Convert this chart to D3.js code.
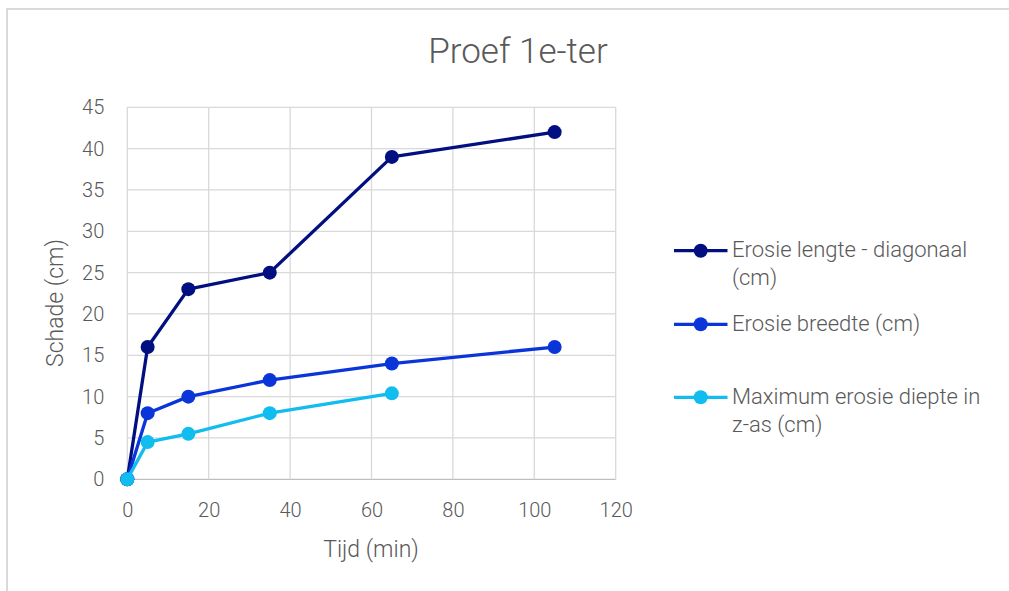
<!DOCTYPE html>
<html><head><meta charset="utf-8">
<script src="https://cdn.jsdelivr.net/npm/d3@7"></script>
<style>html,body{margin:0;padding:0;background:#fff;overflow:hidden}</style>
</head><body><svg id="c" width="1009" height="591"></svg>
<script>
const title = "Proef 1e-ter";
const xLabel = "Tijd (min)";
const yLabel = "Schade (cm)";
const times = [0, 5, 15, 35, 65, 105];
const lengte = [0, 16, 23, 25, 39, 42];
const breedte = [0, 8, 10, 12, 14, 16];
const diepte = [0, 4.5, 5.5, 8, 10.4];
const seriesNames = [["Erosie lengte - diagonaal", "(cm)"], ["Erosie breedte (cm)"], ["Maximum erosie diepte in", "z-as (cm)"]];
const seriesColors = ["#020f80", "#0a36d9", "#10bdee"];
const xTicks = [0, 20, 40, 60, 80, 100, 120];
const yTicks = [0, 5, 10, 15, 20, 25, 30, 35, 40, 45];

const font = "Roboto,'Open Sans',sans-serif";
const txt = "#595959";
const svg = d3.select("#c");
svg.append("rect").attr("x", 7).attr("y", 9).attr("width", 1100).attr("height", 700)
  .attr("fill", "#fff").attr("stroke", "#d9d9d9").attr("stroke-width", 2);

const x = d3.scaleLinear().domain([0, 120]).range([127.3, 615.7]);
const y = d3.scaleLinear().domain([0, 45]).range([479.3, 107.3]);

const g = svg.append("g");
g.selectAll(".hg").data(yTicks).join("line")
  .attr("x1", x(0)).attr("x2", x(120)).attr("y1", d => y(d)).attr("y2", d => y(d))
  .attr("stroke", d => d === 0 ? "#bfbfbf" : "#d9d9d9").attr("stroke-width", 1.3);
g.selectAll(".vg").data(xTicks).join("line")
  .attr("y1", y(0)).attr("y2", y(45)).attr("x1", d => x(d)).attr("x2", d => x(d))
  .attr("stroke", "#d9d9d9").attr("stroke-width", 1.3);

const yAxis = d3.axisLeft(y).tickValues(yTicks).tickSize(0).tickPadding(23);
const ya = svg.append("g").attr("transform", `translate(${x(0)},0)`).call(yAxis);
const xAxis = d3.axisBottom(x).tickValues(xTicks).tickSize(0).tickPadding(24);
const xa = svg.append("g").attr("transform", `translate(0,${y(0)})`).call(xAxis);
[ya, xa].forEach(a => {
  a.select(".domain").remove();
  a.selectAll("text").attr("font-family", font).attr("font-size", 20).attr("font-weight", 300).attr("fill", txt);
});

svg.append("text").attr("x", 518).attr("y", 63).attr("text-anchor", "middle")
  .attr("font-family", font).attr("font-size", 35).attr("font-weight", 300).attr("fill", txt).text(title);
svg.append("text").attr("x", 371).attr("y", 557).attr("text-anchor", "middle")
  .attr("font-family", font).attr("font-size", 23).attr("font-weight", 300).attr("fill", txt).text(xLabel);
svg.append("text").attr("transform", "translate(63,303) rotate(-90)").attr("text-anchor", "middle")
  .attr("font-family", font).attr("font-size", 23).attr("font-weight", 300).attr("fill", txt).text(yLabel);

const data = [lengte, breedte, diepte];
const line = d3.line().x(d => x(d[0])).y(d => y(d[1]));
data.forEach((vals, i) => {
  const pts = vals.map((v, j) => [times[j], v]);
  const sg = svg.append("g");
  sg.append("path").attr("d", line(pts)).attr("fill", "none")
    .attr("stroke", seriesColors[i]).attr("stroke-width", 3.3).attr("stroke-linejoin", "round");
  sg.selectAll("circle").data(pts).join("circle")
    .attr("cx", d => x(d[0])).attr("cy", d => y(d[1])).attr("r", 7).attr("fill", seriesColors[i]);
});

const legY = [250.7, 324.3, 397.3];
const lx0 = 674, lx1 = 727.5;
seriesNames.forEach((lines, i) => {
  const lg = svg.append("g");
  lg.append("line").attr("x1", lx0).attr("x2", lx1).attr("y1", legY[i]).attr("y2", legY[i])
    .attr("stroke", seriesColors[i]).attr("stroke-width", 3.3);
  lg.append("circle").attr("cx", 700.7).attr("cy", legY[i]).attr("r", 7).attr("fill", seriesColors[i]);
  lines.forEach((t, k) => {
    lg.append("text").attr("x", 732).attr("y", legY[i] + 6.5 + k * 28)
      .attr("font-family", font).attr("font-size", 22).attr("font-weight", 300).attr("fill", txt).text(t);
  });
});
</script></body></html>
